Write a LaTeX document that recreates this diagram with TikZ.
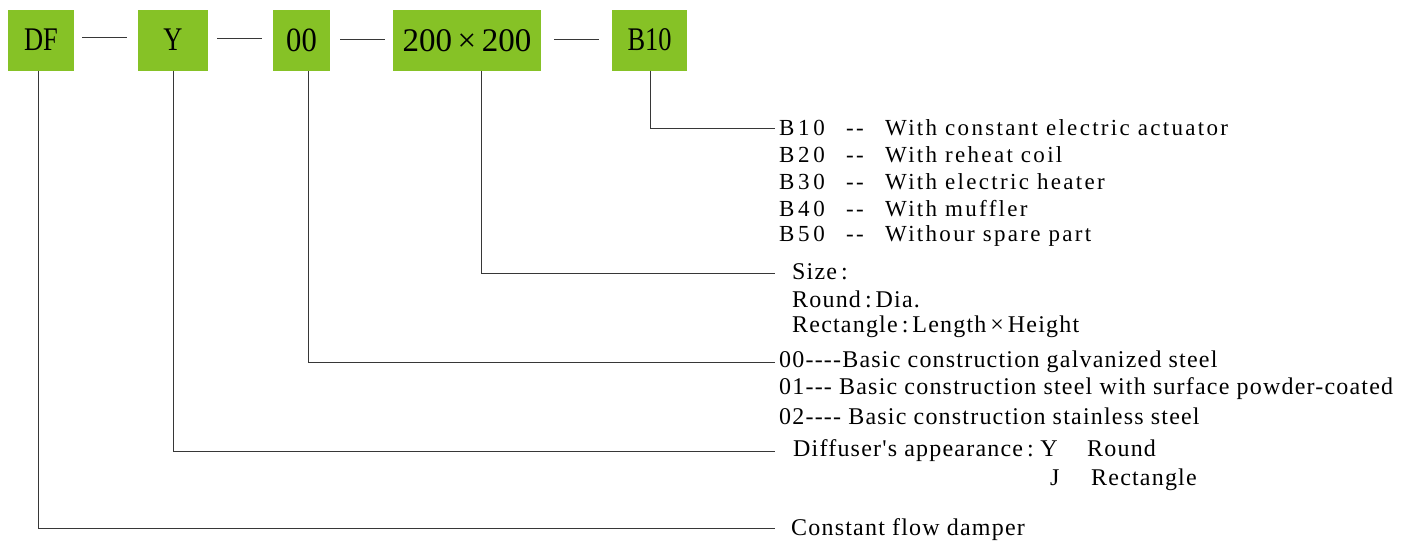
\documentclass[tikz,border=0pt]{standalone}
\usepackage{fontspec}
\setmainfont{Liberation Serif}
\newfontfamily\spacedfont[LetterSpace=10]{Liberation Serif}
\newfontfamily\codefont[LetterSpace=16]{Liberation Serif}
\newfontfamily\plainfont[LetterSpace=5]{Liberation Serif}
\newfontfamily\boxfont[FakeStretch=0.8]{Liberation Serif}
\newfontfamily\boxdigitfont[FakeStretch=0.9]{Liberation Serif}
\newfontfamily\digitfont{Liberation Serif}
\definecolor{boxgreen}{RGB}{134,194,38}
\definecolor{linegray}{RGB}{55,55,55}
\newcommand{\bcode}[2]{\makebox[67pt][l]{\codefont #1}\makebox[39pt][l]{--}#2}
\begin{document}
\begin{tikzpicture}[x=1pt,y=-1pt,
  codebox/.style={fill=boxgreen,draw=none,inner sep=0pt,minimum height=61pt,
    font=\boxfont\fontsize{33}{33}\selectfont},
  link/.style={draw=linegray,line width=1pt},
  dashline/.style={draw=linegray,line width=1pt},
  spacedtxt/.style={anchor=west,inner sep=0pt,font=\spacedfont\fontsize{23}{23}\selectfont},
  plaintxt/.style={anchor=west,inner sep=0pt,font=\plainfont\fontsize{24}{24}\selectfont}]
\useasboundingbox (0,0) rectangle (1416,542);
% code boxes
\node[codebox,minimum width=66pt] (df) at (41,40) {DF};
\node[codebox,minimum width=70pt] (y) at (173,40) {Y};
\node[codebox,minimum width=57pt,font=\boxdigitfont\fontsize{34}{34}\selectfont] (oo) at (301.5,40.5) {00};
\node[codebox,minimum width=148pt,font=\digitfont\fontsize{33}{33}\selectfont] (sz) at (467,40.5) {200\,×\,200};
\node[codebox,minimum width=75pt] (bt) at (649.5,40) {B10};
% separators
\draw[dashline] ([xshift=8pt]df.east |- 0,37) -- ([xshift=-11pt]y.west |- 0,37);
\draw[dashline] ([xshift=9pt]y.east |- 0,38) -- ([xshift=-11pt]oo.west |- 0,38);
\draw[dashline] ([xshift=10pt]oo.east |- 0,39) -- ([xshift=-8pt]sz.west |- 0,39);
\draw[dashline] ([xshift=13pt]sz.east |- 0,39) -- ([xshift=-13pt]bt.west |- 0,39);
% B group
\node[spacedtxt] (b1) at (779,128) {\bcode{B10}{With constant electric actuator}};
\node[spacedtxt] (b2) at (779,155) {\bcode{B20}{With reheat coil}};
\node[spacedtxt] (b3) at (779,182) {\bcode{B30}{With electric heater}};
\node[spacedtxt] (b4) at (779,209) {\bcode{B40}{With muffler}};
\node[spacedtxt] (b5) at (779,236) {\bcode{B50}{Withour spare part}};
% size group
\node[plaintxt] (s1) at (792,272) {Size\,:};
\node[plaintxt] (s2) at (792,299) {Round\,:\,Dia.};
\node[plaintxt] (s3) at (792,327) {Rectangle\,:\,Length\,×\,Height};
% material group
\node[plaintxt] (m1) at (779,362) {00----Basic construction galvanized steel};
\node[plaintxt] (m2) at (779,389) {01--- Basic construction steel with surface powder-coated};
\node[plaintxt] (m3) at (779,416) {02---- Basic construction stainless steel};
% appearance group
\coordinate (xround) at (1087,0);
\coordinate (xj) at (1050,0);
\coordinate (xrect) at (1091,0);
\coordinate (yj) at (0,485);
\node[plaintxt] (a1) at (793,451) {Diffuser's appearance\,:\;Y};
\node[plaintxt,anchor=base west] (a2) at (a1.base -| xround) {Round};
\node[plaintxt,anchor=base west] (a3) at (yj -| xj) {J};
\node[plaintxt,anchor=base west] (a4) at (yj -| xrect) {Rectangle};
% damper
\node[plaintxt] (c1) at (791,530) {Constant flow damper};
% connectors
\draw[link] ([xshift=0.5pt]bt.south) |- ([xshift=-4pt]b1.west);
\draw[link] ([xshift=14pt]sz.south) |- ([xshift=-17pt,yshift=-1pt]s1.west);
\draw[link] ([xshift=6.5pt]oo.south) |- ([xshift=-4pt]m1.west);
\draw[link] (y.south) |- ([xshift=-18pt]a1.west);
\draw[link] ([xshift=-3pt]df.south) |- ([xshift=-16pt,yshift=2pt]c1.west);
\end{tikzpicture}
\end{document}
